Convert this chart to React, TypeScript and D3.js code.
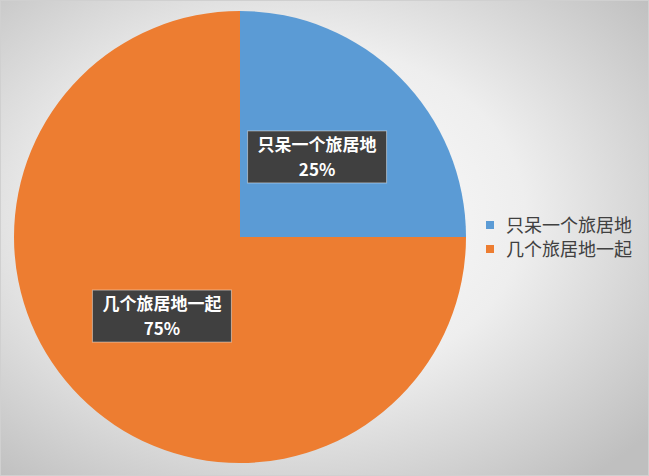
import * as d3 from 'd3';

// 数据
const categories = ['只呆一个旅居地', '几个旅居地一起'];
const values = [25, 75];
const colors = ['#5b9bd5', '#ed7d31'];

const width = 649;
const height = 476;
const cx = 240;
const cy = 237;
const radius = 226;
const font = '"Noto Sans CJK SC", "Noto Sans", sans-serif';

// 标签相对扇区中心的偏移
const labelOffsets = [[-22, 19], [21, -20]];

export default function App() {
    const pie = d3.pie<number>().sort(null).value(d => d);
    const arcs = pie(values);
    const arcGen = d3.arc<d3.PieArcDatum<number>>().innerRadius(0).outerRadius(radius);
    const labelArc = d3.arc<d3.PieArcDatum<number>>().innerRadius(radius * 0.62).outerRadius(radius * 0.62);
    const total = d3.sum(values);

    return (
        <svg width={width} height={height} style={{ position: 'absolute', left: 0, top: 0 }}>
            <defs>
                <radialGradient id="bg" cx="45%" cy="45%" r="72%">
                    <stop offset="0%" stopColor="#ffffff" />
                    <stop offset="50%" stopColor="#eeeeee" />
                    <stop offset="100%" stopColor="#bfbfbf" />
                </radialGradient>
            </defs>
            <rect x={0.5} y={0.5} width={width - 1} height={height - 1} fill="url(#bg)" stroke="#d0d0d0" />

            <g transform={`translate(${cx},${cy})`}>
                {arcs.map((a, i) => (
                    <path key={i} d={arcGen(a) || ''} fill={colors[i]} />
                ))}
                {arcs.map((a, i) => {
                    const [lx, ly] = labelArc.centroid(a);
                    const pct = Math.round((a.data / total) * 100) + '%';
                    const bw = 139;
                    const bh = 52;
                    const x = lx + labelOffsets[i][0];
                    const y = ly + labelOffsets[i][1];
                    return (
                        <g key={'l' + i} transform={`translate(${x},${y})`}>
                            <rect x={-bw / 2} y={-bh / 2} width={bw} height={bh} fill="#404040" stroke="#ffffff" strokeOpacity={0.45} />
                            <text x={0} y={-6} textAnchor="middle" fill="#ffffff" fontFamily={font} fontWeight="bold" fontSize={17}>
                                {categories[i]}
                            </text>
                            <text x={0} y={19} textAnchor="middle" fill="#ffffff" fontFamily={font} fontWeight="bold" fontSize={17}>
                                {pct}
                            </text>
                        </g>
                    );
                })}
            </g>

            <g transform="translate(486,0)">
                {categories.map((c, i) => (
                    <g key={c} transform={`translate(0,${225 + i * 24})`}>
                        <rect x={0} y={-4} width={8} height={8} fill={colors[i]} />
                        <text x={20} y={6.5} fill="#404040" fontFamily={font} fontSize={18}>{c}</text>
                    </g>
                ))}
            </g>
        </svg>
    );
}
